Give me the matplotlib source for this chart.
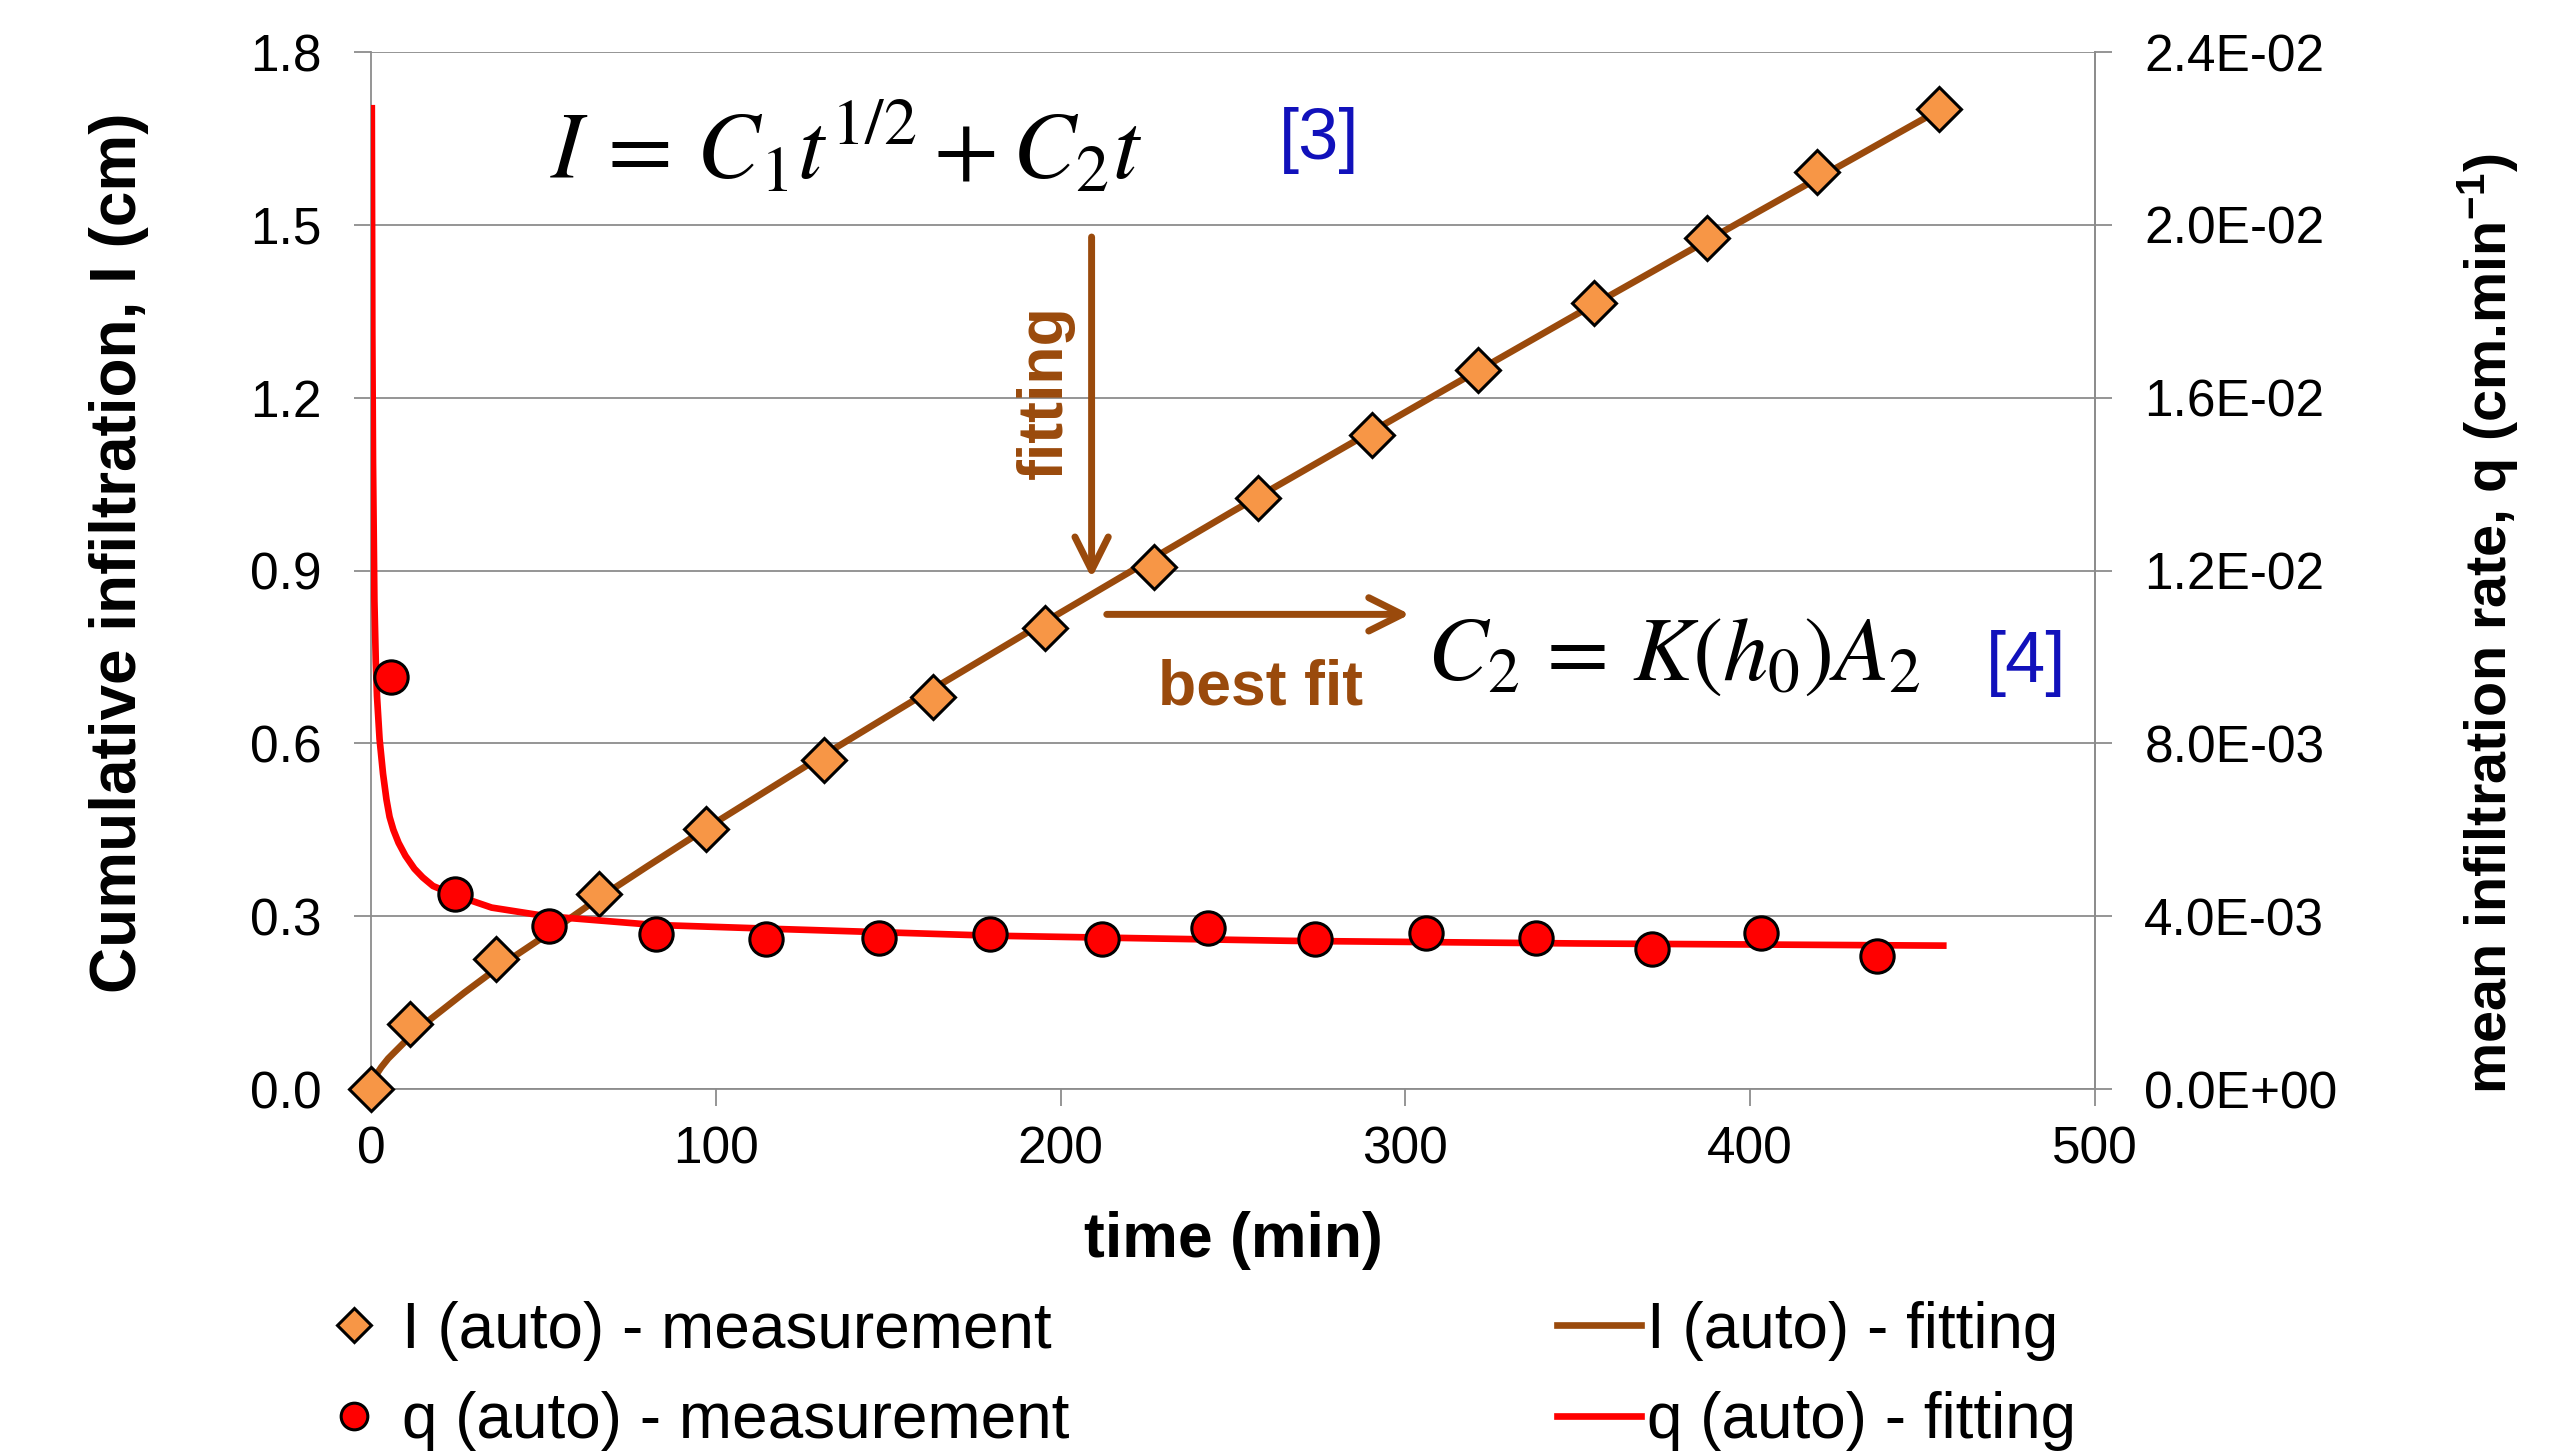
import matplotlib
matplotlib.use('Agg')
import matplotlib.pyplot as plt
from matplotlib.ticker import FuncFormatter, MultipleLocator

plt.rcParams['font.family'] = ['Liberation Sans', 'DejaVu Sans']
plt.rcParams['mathtext.fontset'] = 'custom'
plt.rcParams['mathtext.rm'] = 'Liberation Sans'
plt.rcParams['mathtext.bf'] = 'Liberation Sans:bold'
plt.rcParams['mathtext.it'] = 'Liberation Sans:italic'

# cumulative infiltration, measured (diamonds)
t_I = [0, 11.3, 36.4, 66.1, 97.3, 131.3, 162.9, 195.5, 227.1, 257.3, 290.4,
       321.0, 354.6, 387.6, 419.3, 454.7]
I_meas = [0, 0.113, 0.226, 0.339, 0.452, 0.571, 0.681, 0.800, 0.907, 1.026,
          1.136, 1.249, 1.365, 1.478, 1.591, 1.701]

# mean infiltration rate, measured (circles)
t_q = [5.7, 24.5, 51.5, 82.6, 114.7, 147.3, 179.4, 212.0, 242.7, 273.8,
       306.0, 338.0, 371.6, 403.2, 436.7]
q_meas = [0.00953, 0.00452, 0.00377, 0.00358, 0.00347, 0.00350, 0.00358,
          0.00347, 0.00373, 0.00347, 0.00362, 0.00350, 0.00324, 0.00362,
          0.00309]

# fitted curves
t_Ifit = [0, 1, 3, 5, 10, 17, 27, 38, 50, 66, 80, 100, 130, 160, 200, 250,
          300, 350, 400, 455]
I_fit = [0, 0.020, 0.038, 0.053, 0.083, 0.120, 0.167, 0.216, 0.264, 0.331,
         0.386, 0.463, 0.575, 0.684, 0.827, 1.003, 1.175, 1.346, 1.515, 1.700]

t_qfit = [0.25, 0.4, 0.6, 1.0, 1.4, 1.75, 2.5, 3.5, 4.5, 5.4, 6.5, 8, 10,
          12.6, 15, 18, 24, 35, 51, 82, 120, 180, 267, 350, 456]
q_fit = [0.0227, 0.0175, 0.0145, 0.0113, 0.0099, 0.0091, 0.0081, 0.0073,
         0.0067, 0.0063, 0.0060, 0.0057, 0.0054, 0.0051, 0.0049, 0.0047,
         0.0045, 0.0042, 0.0040, 0.0038, 0.0037, 0.00355, 0.00343, 0.00337,
         0.00332]

brown = '#9a4a0c'
orange = '#f79646'
grey = '#8c8c8c'
blue = '#1111bb'

fig = plt.figure(figsize=(25.53, 14.55), dpi=100)
ax = fig.add_axes([0.1453, 0.2515, 0.6753, 0.7127])
ax2 = ax.twinx()

# left axis: cumulative infiltration
l3, = ax.plot(t_Ifit, I_fit, color=brown, lw=4.8, zorder=3,
              label='I (auto) - fitting')
l1, = ax.plot(t_I, I_meas, 'D', ms=22, mfc=orange, mec='k', mew=2.2, zorder=4,
              clip_on=False, label='I (auto) - measurement')
# right axis: infiltration rate
l4, = ax2.plot(t_qfit, q_fit, color='red', lw=4.8, zorder=3,
               label='q (auto) - fitting')
l2, = ax2.plot(t_q, q_meas, 'o', ms=24, mfc='red', mec='k', mew=2.2, zorder=4,
               clip_on=False, label='q (auto) - measurement')

ax.set_xlim(0, 500)
ax.set_ylim(0, 1.8)
ax2.set_ylim(0, 0.024)
ax.xaxis.set_major_locator(MultipleLocator(100))
ax.yaxis.set_major_locator(MultipleLocator(0.3))
ax2.yaxis.set_major_locator(MultipleLocator(0.004))
ax.yaxis.set_major_formatter(FuncFormatter(lambda v, p: f'{v:.1f}'))
ax2.yaxis.set_major_formatter(FuncFormatter(lambda v, p: f'{v:.1E}'))

ax.yaxis.grid(True, color=grey, lw=1.3)
ax.set_axisbelow(True)
for a in (ax, ax2):
    for s in a.spines.values():
        s.set_color(grey)
        s.set_linewidth(1.3)
    a.spines['top'].set_visible(False)
ax2.spines['left'].set_visible(False)
ax2.spines['bottom'].set_visible(False)

ax.tick_params(axis='x', direction='out', length=12.5, width=1.3, color=grey,
               labelsize=37, pad=14)
ax.tick_params(axis='y', direction='out', length=12.5, width=1.3, color=grey,
               labelsize=37, pad=23)
ax2.tick_params(axis='y', direction='out', length=12.5, width=1.3, color=grey,
                labelsize=37, pad=23)

ax.set_xlabel('time (min)', fontsize=45, fontweight='bold')
ax.xaxis.set_label_coords(0.5, -0.1177)
ax.set_ylabel('Cumulative infiltration, I (cm)', fontsize=46, fontweight='bold')
ax.yaxis.set_label_coords(-0.129, 0.517)
ax2.set_ylabel(r'mean infiltration rate, q (cm.min$^{\mathbf{-1}}$)',
               fontsize=41.5, fontweight='bold')
ax2.yaxis.set_label_coords(1.209, 0.449)

# equations and annotations
ax.text(138, 1.58, r'$I\,=\,C_1 t^{1/2} + C_2 t$', fontsize=68,
        math_fontfamily='stix', ha='center', va='baseline')
ax.text(275, 1.614, '[3]', fontsize=52, color=blue, ha='center', va='baseline')
ax.text(378, 0.71, r'$C_2\,=\,K(h_0)A_2$', fontsize=65,
        math_fontfamily='stix', ha='center', va='baseline')
ax.text(480, 0.707, '[4]', fontsize=52, color=blue, ha='center', va='baseline')

arrow = dict(arrowstyle='->,head_length=0.4,head_width=0.2', lw=5,
             color=brown, mutation_scale=60, shrinkA=0, shrinkB=0)
ax.annotate('', xy=(209, 0.887), xytext=(209, 1.479), arrowprops=arrow)
ax.annotate('', xy=(301.3, 0.824), xytext=(213.4, 0.824), arrowprops=arrow)
ax.text(195.5, 1.21, 'fitting', fontsize=45, fontweight='bold', color=brown,
        rotation=90, ha='center', va='center')
ax.text(258, 0.667, 'best fit', fontsize=45, fontweight='bold', color=brown,
        ha='center', va='baseline')

leg_kw = dict(loc='center left', frameon=False, fontsize=46, handlelength=1.31,
              handletextpad=0.1, labelspacing=0.48, borderpad=0,
              borderaxespad=0, markerscale=0.8)
fig.legend(handles=[l1, l2], bbox_to_anchor=(0.1222, 0.0543), **leg_kw)
fig.legend(handles=[l3, l4], bbox_to_anchor=(0.6099, 0.0543), **leg_kw)

fig.savefig('out.png', dpi=100)
